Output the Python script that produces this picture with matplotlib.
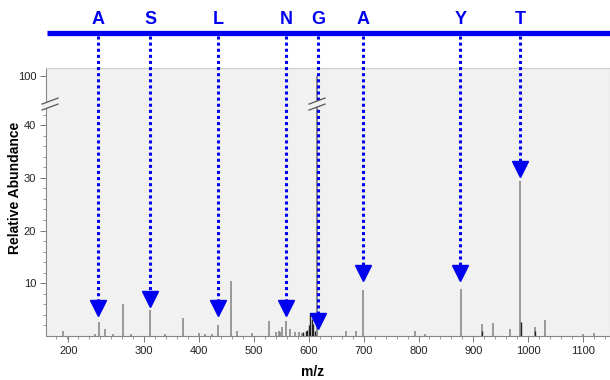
import numpy as np
import matplotlib
matplotlib.use('Agg')
import matplotlib.pyplot as plt
from matplotlib.ticker import FixedLocator
import matplotlib.transforms as mtransforms

plt.rcParams['font.family'] = ['Liberation Sans', 'DejaVu Sans']

# spectrum peaks (m/z, relative abundance)
peak_mz = [152, 211, 217, 229, 243, 260.5, 276, 311, 338, 370.5, 400, 410, 424, 435,
           458, 470, 496, 528, 540, 545, 548, 551, 558.6, 565, 575, 582, 588,
           668, 686, 698.3, 793.6, 812, 877, 916, 935, 967, 984.5, 1011.6, 1030.6,
           1100, 1120, 1150]
peak_int = [0.9, 0.3, 2.6, 1.3, 0.3, 6.0, 0.3, 5.0, 0.3, 3.4, 0.5, 0.4, 0.4, 2.1,
            10.4, 0.9, 0.5, 2.8, 0.8, 0.9, 0.8, 1.7, 2.8, 1.4, 0.7, 0.8, 0.6,
            0.9, 1.0, 8.8, 1.0, 0.4, 9.0, 2.3, 2.5, 1.3, 29.4, 1.7, 3.1,
            0.4, 0.6, 0.5]
dark_mz = [590, 594, 597, 600, 603, 605, 608, 611, 916, 986, 1011.6]
dark_int = [0.8, 1.0, 1.2, 2.0, 4.3, 3.2, 2.2, 1.0, 1.0, 2.6, 1.0]
base_mz = 614.5
base_int = 100

# sequence annotation
letters = ['A', 'S', 'L', 'N', 'G', 'A', 'Y', 'T']
arrow_mz = [216, 311, 435, 559, 617, 699, 876, 985]
arrow_tip = [3.8, 5.5, 3.8, 3.8, 1.3, 10.4, 10.4, 30.2]

xtick_pos = [162, 300, 400, 500, 600, 700, 800, 900, 1000, 1100]
xtick_lab = ['200', '300', '400', '500', '600', '700', '800', '900', '1000', '1100']
ytick_pos = [10, 20, 30, 40, 100]

BRK = 44.0
K = 0.0964
YMAX = 115


def fwd(y):
    y = np.asarray(y, dtype=float)
    return np.where(y <= BRK, y, BRK + (y - BRK) * K)


def inv(y):
    y = np.asarray(y, dtype=float)
    return np.where(y <= BRK, y, BRK + (y - BRK) / K)


BLUE = '#0000f0'
BG = '#f1f1f1'

fig = plt.figure(figsize=(6.1, 3.8), dpi=100)
ax = fig.add_axes([46 / 610, 44 / 380, 564 / 610, 268 / 380])
ax.set_facecolor(BG)
ax.set_yscale('function', functions=(fwd, inv))
ax.set_xlim(121, 1149)
ax.set_ylim(0, YMAX)

ax.vlines(peak_mz, 0, peak_int, colors='#8a8a8a', lw=1.2)
ax.vlines(dark_mz, 0, dark_int, colors='#222222', lw=1.0)
ax.vlines([base_mz], 0, [base_int], colors='#777777', lw=1.2)

for s in ['top', 'right']:
    ax.spines[s].set_color('#cccccc')
    ax.spines[s].set_linewidth(0.8)
for s in ['left', 'bottom']:
    ax.spines[s].set_color('#888888')
    ax.spines[s].set_linewidth(0.8)

ax.set_xticks(xtick_pos)
ax.set_xticklabels(xtick_lab)
ax.xaxis.set_minor_locator(FixedLocator(np.arange(140, 1160, 20)))
ax.set_yticks(ytick_pos)
ax.set_yticklabels([str(v) for v in ytick_pos])
ax.yaxis.set_minor_locator(FixedLocator(np.arange(2, 44, 2)))
ax.tick_params(which='major', length=4, width=0.7, color='#777777',
               labelsize=8, labelcolor='#222222', pad=3)
ax.tick_params(which='minor', length=2, width=0.6, color='#888888')

fig.text(313 / 610, 1 - 372 / 380, 'm/z', ha='center', va='center',
         fontsize=10, fontweight='bold')
fig.text(15 / 610, 1 - 188 / 380, 'Relative Abundance', ha='center', va='center',
         rotation=90, fontsize=10, fontweight='bold')

# top sequence bar
ax.plot([0.002, 1.0], [1.131, 1.131], transform=ax.transAxes, clip_on=False,
        color=BLUE, lw=3.8, solid_capstyle='butt')

xblend = ax.get_xaxis_transform()
ytop = float(fwd(YMAX))
tri_off = mtransforms.offset_copy(ax.transData, fig=fig, x=0, y=8, units='dots')
for lab, mz, tip in zip(letters, arrow_mz, arrow_tip):
    ax.text(mz, 1.18, lab, transform=xblend, ha='center', va='center',
            fontsize=13, fontweight='bold', color=BLUE)
    y_end = float(fwd(tip)) / ytop + 10 / 268
    ax.plot([mz, mz], [1.12, y_end], transform=xblend, clip_on=False,
            color=BLUE, lw=2.2, linestyle=(0, (1, 1)), dash_capstyle='butt', zorder=4)
    ax.plot([mz], [tip], marker='v', markersize=11.5, color=BLUE, mec=BLUE,
            transform=tri_off, clip_on=False, zorder=5)

# axis break marks
ybrk = float(fwd(BRK)) / ytop
trans_ax = ax.transAxes
for xc_px in [4, 271]:
    xc = xc_px / 564
    dx, dy, gap = 8 / 564, 3 / 268, 3 / 268
    ax.fill([xc - dx, xc + dx, xc + dx, xc - dx],
            [ybrk - dy + gap, ybrk + dy + gap, ybrk + dy - gap, ybrk - dy - gap],
            color=BG, transform=trans_ax, clip_on=False, zorder=6, lw=0)
    for g in (gap, -gap):
        ax.plot([xc - dx, xc + dx], [ybrk - dy + g, ybrk + dy + g],
                transform=trans_ax, clip_on=False, color='#555555', lw=0.9, zorder=7)

fig.savefig('out.png', dpi=100)
